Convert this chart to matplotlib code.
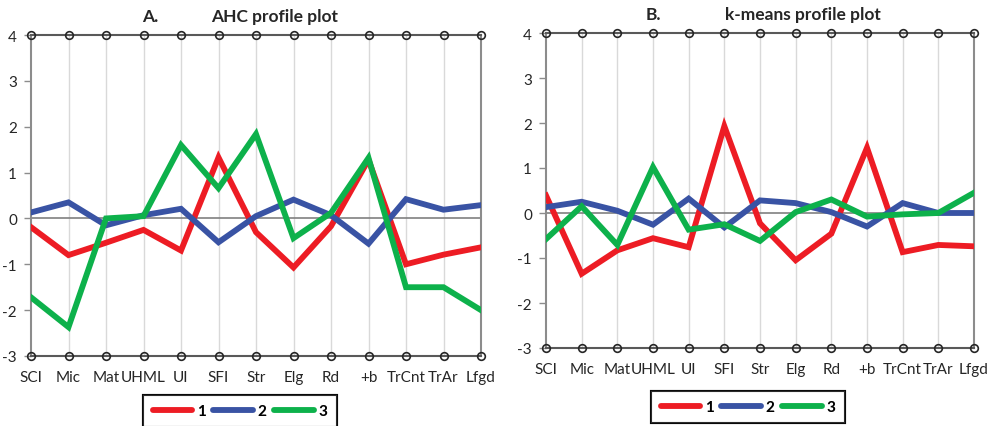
import numpy as np
import matplotlib.pyplot as plt
from matplotlib.lines import Line2D

plt.rcParams['font.family'] = ['Lato', 'DejaVu Sans']
plt.rcParams['axes.unicode_minus'] = False

categories = ["SCI", "Mic", "Mat", "UHML", "UI", "SFI", "Str", "Elg", "Rd",
              "+b", "TrCnt", "TrAr", "Lfgd"]

# AHC cluster profiles
ahc_1 = [-0.19, -0.80, -0.53, -0.25, -0.70, 1.33, -0.30, -1.07, -0.17, 1.28, -1.00, -0.79, -0.63]
ahc_2 = [0.13, 0.35, -0.15, 0.07, 0.21, -0.52, 0.05, 0.41, 0.07, -0.55, 0.42, 0.19, 0.29]
ahc_3 = [-1.72, -2.37, 0.00, 0.05, 1.60, 0.66, 1.84, -0.43, 0.12, 1.32, -1.50, -1.50, -2.00]

# k-means cluster profiles
km_1 = [0.39, -1.35, -0.83, -0.56, -0.76, 1.93, -0.23, -1.05, -0.46, 1.45, -0.87, -0.71, -0.74]
km_2 = [0.13, 0.25, 0.05, -0.26, 0.32, -0.32, 0.28, 0.22, 0.02, -0.30, 0.22, 0.00, 0.00]
km_3 = [-0.58, 0.15, -0.71, 1.02, -0.37, -0.25, -0.62, 0.02, 0.30, -0.08, -0.03, 0.00, 0.45]

series_labels = ["1", "2", "3"]
colors = ["#ED1C24", "#3953A4", "#0DB14B"]
yticks = [-3, -2, -1, 0, 1, 2, 3, 4]

W, H = 991, 427
fig = plt.figure(figsize=(W / 100, H / 100), dpi=100)


def panel(rect, data, letter, title, letter_x, title_x):
    x0, y0, x1, y1 = rect
    ax = fig.add_axes([x0 / W, 1 - y1 / H, (x1 - x0) / W, (y1 - y0) / H])
    x = np.arange(len(categories))
    ax.set_xlim(0, len(categories) - 1)
    ax.set_ylim(-3, 4)

    for xi in x[1:-1]:
        ax.axvline(xi, color="#D9D9D9", lw=1, zorder=0)
    ax.axhline(0, color="#808080", lw=1.2, zorder=1)

    for vals, c in zip(data, colors):
        ax.plot(x, vals, color=c, lw=4.2, solid_joinstyle="miter", zorder=3)

    for yv in (4, -3):
        ax.plot(x, [yv] * len(x), color="#595959", lw=1.5, marker="o", ms=5.5,
                mfc="none", mec="#262626", mew=1.2, clip_on=False, zorder=4)

    for s in ("top", "bottom"):
        ax.spines[s].set_visible(False)
    for s in ("left", "right"):
        ax.spines[s].set_color("#8C8C8C")
        ax.spines[s].set_linewidth(1.5)

    ax.set_yticks(yticks)
    ax.set_xticks(x)
    ax.set_xticklabels(categories)
    ax.tick_params(axis="y", length=5, width=1, color="#8C8C8C", pad=5,
                   labelsize=11, labelcolor="#262626")
    ax.tick_params(axis="x", length=0, pad=10, labelsize=11, labelcolor="#262626")

    ax.text(letter_x, 1.06, letter, transform=ax.transAxes, ha="center", va="center",
            fontsize=12.5, fontweight="bold", color="#262626")
    ax.text(title_x, 1.06, title, transform=ax.transAxes, ha="center", va="center",
            fontsize=12.5, fontweight="bold", color="#262626")
    return ax


panel((31, 36, 481, 357), [ahc_1, ahc_2, ahc_3], "A.", "AHC profile plot", 0.264, 0.542)
panel((546, 34, 974, 349), [km_1, km_2, km_3], "B.", "k-means profile plot", 0.252, 0.60)

handles = [Line2D([0], [0], color=c, lw=4.2, solid_capstyle="round") for c in colors]
for cx, cy in ((240 / W, 1 - 412 / H), (748 / W, 1 - 408 / H)):
    leg = fig.legend(handles, series_labels, loc="center", bbox_to_anchor=(cx, cy),
                     ncol=3, frameon=True, fancybox=False, handlelength=2.6,
                     handletextpad=0.3, columnspacing=0.5, borderpad=0.6,
                     prop={"weight": "bold", "size": 11})
    leg.get_frame().set_edgecolor("black")
    leg.get_frame().set_linewidth(1.5)
    fig.add_artist(leg)

fig.savefig("out.png", dpi=100)
